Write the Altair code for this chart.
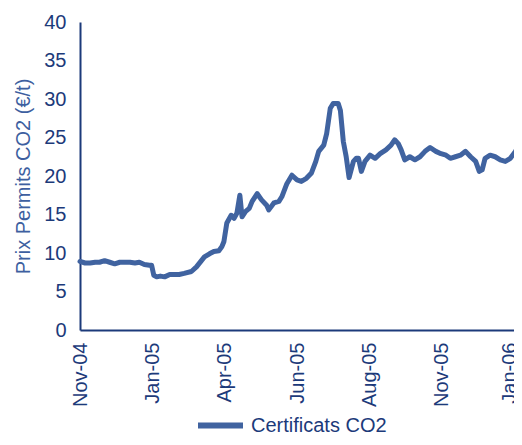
import json
import altair as alt
import pandas as pd

# x labels (evenly spaced category labels, one unit apart)
tick_labels = ["Nov-04", "Jan-05", "Apr-05", "Jun-05", "Aug-05", "Nov-05", "Jan-06"]

# position along the time axis, in label intervals
period = [
    0.00, 0.07, 0.14, 0.21, 0.27, 0.34, 0.41, 0.48, 0.55, 0.62, 0.69, 0.76, 0.82, 0.89, 0.96, 0.99,
    1.02, 1.06, 1.11, 1.17, 1.24, 1.31, 1.37, 1.44, 1.54, 1.61, 1.72, 1.79, 1.85, 1.92, 1.96, 1.99,
    2.03, 2.09, 2.13, 2.17, 2.21, 2.24, 2.29, 2.34, 2.38, 2.45, 2.51, 2.58, 2.61, 2.68, 2.75, 2.79,
    2.86, 2.93, 3.00, 3.06, 3.13, 3.20, 3.26, 3.30, 3.37, 3.41, 3.46, 3.50, 3.57, 3.60, 3.64, 3.68,
    3.72, 3.78, 3.82, 3.85, 3.89, 3.94, 4.01, 4.08, 4.15, 4.23, 4.30, 4.35, 4.40, 4.44, 4.49, 4.56,
    4.63, 4.70, 4.77, 4.84, 4.92, 4.99, 5.06, 5.12, 5.19, 5.26, 5.33, 5.40, 5.47, 5.52, 5.56, 5.60,
    5.67, 5.74, 5.81, 5.88, 5.95, 6.02, 6.06,
]

# price of CO2 permits (EUR/t)
prix = [
    8.9, 8.7, 8.7, 8.8, 8.8, 9.0, 8.8, 8.6, 8.8, 8.8, 8.8, 8.7, 8.8, 8.5, 8.4, 8.4,
    7.1, 6.9, 7.0, 6.9, 7.2, 7.2, 7.2, 7.35, 7.6, 8.2, 9.5, 9.9, 10.2, 10.3, 10.8, 11.5,
    13.9, 14.9, 14.5, 15.2, 17.5, 14.7, 15.4, 15.8, 16.7, 17.7, 16.9, 16.2, 15.6, 16.5, 16.7, 17.3,
    19.0, 20.1, 19.5, 19.3, 19.7, 20.4, 21.9, 23.2, 24.0, 25.5, 28.8, 29.4, 29.4, 28.5, 24.5, 22.5,
    19.8, 21.9, 22.3, 22.3, 20.6, 21.9, 22.7, 22.3, 22.9, 23.4, 24.0, 24.7, 24.2, 23.4, 22.1, 22.5,
    22.1, 22.5, 23.2, 23.7, 23.2, 22.9, 22.7, 22.3, 22.5, 22.7, 23.2, 22.5, 21.9, 20.6, 20.8, 22.3,
    22.7, 22.5, 22.1, 21.9, 22.3, 23.2, 23.8,
]

series_name = "Certificats CO2"
y_ticks = [0, 5, 10, 15, 20, 25, 30, 35, 40]

LINE = "#4063A0"
NAVY = "#1C3A7A"
TITLE = "#3D5FA0"
FONT = "Liberation Sans"

df = pd.DataFrame({"t": period, "prix": prix, "serie": series_name})

label_expr = json.dumps(tick_labels) + "[datum.value]"
last_tick = len(tick_labels) - 1

chart = alt.Chart(df).mark_line(strokeWidth=5, strokeJoin="round", strokeCap="round").encode(
    x=alt.X(
        "t:Q",
        scale=alt.Scale(domain=[0, last_tick], nice=False, zero=False),
        axis=alt.Axis(
            values=list(range(len(tick_labels))),
            labelExpr=label_expr,
            labelAngle=-90,
            labelFontSize=20,
            labelFont=FONT,
            labelColor=NAVY,
            labelPadding=12,
            labelOffset=alt.ExprRef(f"datum.value == {last_tick} ? -5 : 0"),
            ticks=False,
            grid=False,
            domainColor=NAVY,
            domainWidth=2,
            title=None,
            labelOverlap=False,
        ),
    ),
    y=alt.Y(
        "prix:Q",
        scale=alt.Scale(domain=[0, 40], nice=False),
        axis=alt.Axis(
            values=y_ticks,
            labelFontSize=20,
            labelFont=FONT,
            labelColor=NAVY,
            labelPadding=14,
            ticks=False,
            grid=False,
            domainColor=NAVY,
            domainWidth=2,
            title="Prix Permits CO2 (€/t)",
            titleFont=FONT,
            titleFontSize=20,
            titleFontWeight="normal",
            titleColor=TITLE,
            titlePadding=10,
            labelOverlap=False,
        ),
    ),
    color=alt.Color(
        "serie:N",
        scale=alt.Scale(domain=[series_name], range=[LINE]),
        legend=alt.Legend(
            orient="none",
            legendX=115,
            legendY=378,
            title=None,
            symbolType="stroke",
            symbolStrokeWidth=6,
            symbolSize=2025,
            labelFontSize=20,
            labelFont=FONT,
            labelColor=NAVY,
            labelOffset=5,
        ),
    ),
).properties(
    width=434,
    height=308,
    padding={"left": 72, "top": 14, "right": 0, "bottom": 106},
    autosize=alt.AutoSizeParams(type="none"),
).configure_view(stroke=None)

chart.save("out.html", embed_options={"renderer": "svg", "actions": False})
